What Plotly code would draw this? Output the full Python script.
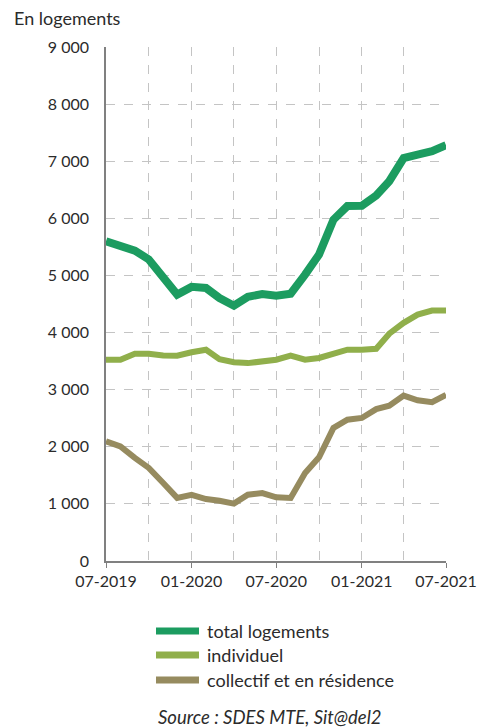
import plotly.graph_objects as go

# Monthly data, 07-2019 to 07-2021
MONTHS = [
    '2019-07-01', '2019-08-01', '2019-09-01', '2019-10-01', '2019-11-01', '2019-12-01',
    '2020-01-01', '2020-02-01', '2020-03-01', '2020-04-01', '2020-05-01', '2020-06-01',
    '2020-07-01', '2020-08-01', '2020-09-01', '2020-10-01', '2020-11-01', '2020-12-01',
    '2021-01-01', '2021-02-01', '2021-03-01', '2021-04-01', '2021-05-01', '2021-06-01',
    '2021-07-01',
]
TOTAL = [5600, 5530, 5435, 5280, 4985, 4665, 4800, 4780, 4605, 4470, 4625, 4675,
         4645, 4680, 5015, 5365, 5975, 6215, 6220, 6400, 6650, 7055, 7115, 7175, 7280]
INDIVIDUEL = [3525, 3525, 3630, 3630, 3600, 3595, 3655, 3700, 3535, 3480, 3465, 3495,
              3525, 3595, 3525, 3555, 3630, 3700, 3700, 3715, 3980, 4170, 4315, 4385, 4385]
COLLECTIF = [2095, 2005, 1805, 1630, 1365, 1105, 1160, 1085, 1055, 1005, 1160, 1190,
             1115, 1105, 1540, 1815, 2330, 2475, 2505, 2660, 2720, 2895, 2815, 2780, 2910]

SERIES = ['total logements', 'individuel', 'collectif et en résidence']
COLORS = ['#1c9c60', '#90af4b', '#968b5f']
WIDTHS = [8, 6, 6]

Y_TICKS = [0, 1000, 2000, 3000, 4000, 5000, 6000, 7000, 8000, 9000]
Y_LABELS = ['0', '1 000', '2 000', '3 000', '4 000', '5 000', '6 000', '7 000', '8 000', '9 000']
X_TICKS = ['2019-07-01', '2020-01-01', '2020-07-01', '2021-01-01', '2021-07-01']
X_LABELS = ['07-2019', '01-2020', '07-2020', '01-2021', '07-2021']

FONT = 'Lato, "Open Sans", sans-serif'
TXT = '#2b2b2b'
GRID = '#c4c4c4'

fig = go.Figure()
for name, vals, col, w in zip(SERIES, [TOTAL, INDIVIDUEL, COLLECTIF], COLORS, WIDTHS):
    fig.add_trace(go.Scatter(x=MONTHS, y=vals, mode='lines', name=name,
                             line=dict(color=col, width=w), showlegend=False))

fig.update_layout(
    width=477, height=727,
    paper_bgcolor='white', plot_bgcolor='white',
    margin=dict(l=106, r=31, t=47, b=166),
    font=dict(family=FONT, color=TXT, size=16),
    xaxis=dict(
        range=['2019-07-01', '2021-07-01'],
        tickvals=X_TICKS, ticktext=X_LABELS,
        tickfont=dict(size=16, color=TXT),
        ticklabeloverflow='allow',
        showgrid=True, gridcolor=GRID, griddash='dash', gridwidth=1,
        minor=dict(tickvals=['2019-10-01', '2020-04-01', '2020-10-01', '2021-04-01'],
                   showgrid=True, gridcolor=GRID, griddash='dash', gridwidth=1),
        showline=True, linecolor='#808080', linewidth=1.5,
        ticks='outside', ticklen=5, tickcolor='#808080',
        zeroline=False, automargin=False,
    ),
    yaxis=dict(
        range=[0, 9000],
        tickvals=Y_TICKS, ticktext=Y_LABELS,
        tickfont=dict(size=16, color=TXT),
        showgrid=True, gridcolor=GRID, griddash='dash', gridwidth=1,
        showline=True, linecolor='#808080', linewidth=1.5,
        ticks='outside', ticklen=12, tickcolor='rgba(0,0,0,0)',
        zeroline=False, automargin=False,
    ),
)

# y-axis unit title
fig.add_annotation(xref='paper', yref='paper', x=(12 - 106) / 340, y=1 + 29 / 514,
                   xanchor='left', yanchor='middle', showarrow=False,
                   text='En logements', font=dict(size=18, color=TXT))

# manual legend below chart
leg_y = [631, 655, 680]
for name, col, py in zip(SERIES, COLORS, leg_y):
    yp = (561 - py) / 514
    fig.add_shape(type='line', xref='paper', yref='paper',
                  x0=(156 - 106) / 340, x1=(199 - 106) / 340, y0=yp, y1=yp,
                  line=dict(color=col, width=7))
    fig.add_annotation(xref='paper', yref='paper', x=(205 - 106) / 340, y=yp,
                       xanchor='left', yanchor='middle', showarrow=False,
                       text=name, font=dict(size=18, color=TXT))

fig.add_annotation(xref='paper', yref='paper', x=(156 - 106) / 340, y=(561 - 717) / 514,
                   xanchor='left', yanchor='middle', showarrow=False,
                   text='<i>Source : SDES MTE, Sit@del2</i>', font=dict(size=18.5, color=TXT))

fig.write_html('out.html', config={'displayModeBar': False},
               post_script="document.body.style.margin='0';document.body.style.overflow='hidden';")
